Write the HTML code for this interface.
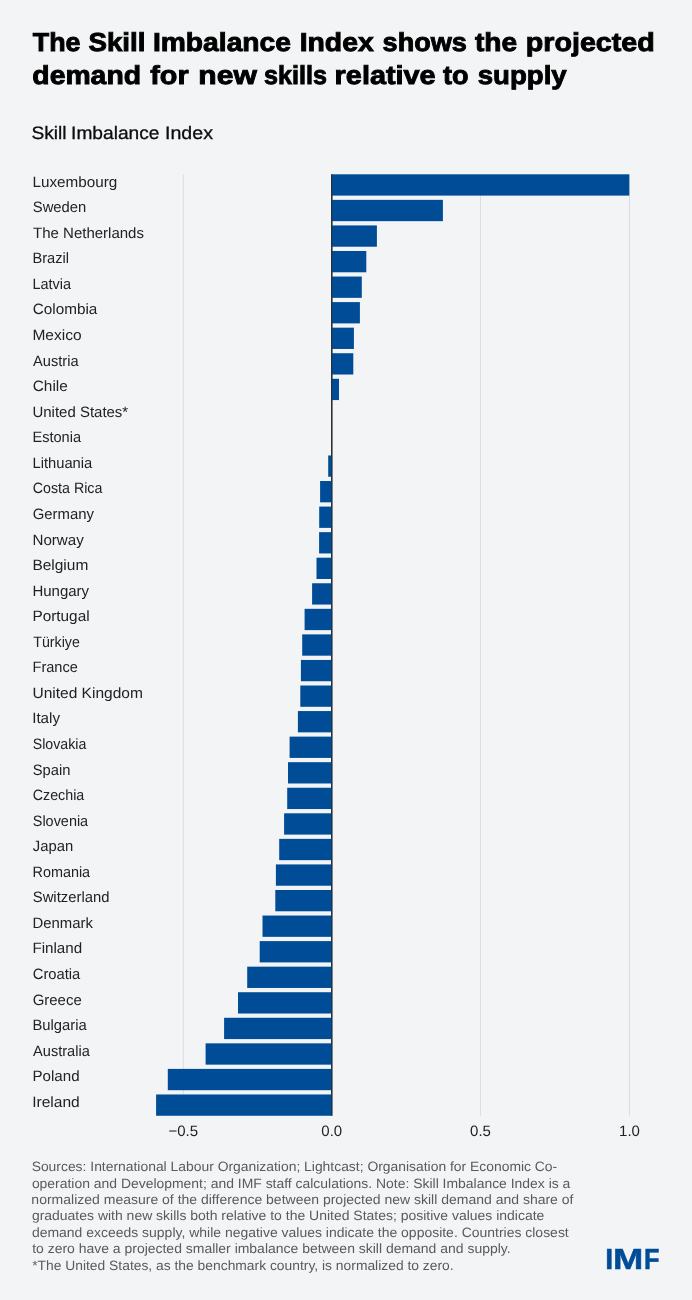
<!DOCTYPE html>
<html lang="en">
<head>
<meta charset="utf-8">
<title>The Skill Imbalance Index</title>
<style>
html,body{margin:0;padding:0;}
body{width:692px;height:1300px;background:#F2F4F6;position:relative;overflow:hidden;font-family:"Liberation Sans",sans-serif;color:#000;text-rendering:geometricPrecision;}
.t{position:absolute;white-space:nowrap;margin:0;padding:0;transform-origin:0 0;}
.title{font-weight:700;font-size:26px;line-height:32px;-webkit-text-stroke:0.9px #000000;color:#000000;}
.sub{font-size:18px;line-height:24px;-webkit-text-stroke:0.3px #0d0d0d;color:#0d0d0d;}
.lab{font-size:15px;line-height:20px;color:#222222;}
.foot{font-size:13.5px;line-height:16px;color:#5a5a5a;}
.imf{font-weight:700;font-size:29px;line-height:30px;-webkit-text-stroke:0.5px #004C97;color:#004C97;}
.tick{font-size:15px;line-height:20px;color:#222222;width:60px;text-align:center;top:1122px;}
svg{position:absolute;left:0;top:0;}
</style>
</head>
<body>
<svg width="692" height="1300" viewBox="0 0 692 1300">
<rect x="182.80" y="174.30" width="1" height="941.46" fill="#DBDDE0"/>
<rect x="480.00" y="174.30" width="1" height="941.46" fill="#DBDDE0"/>
<rect x="629.00" y="174.30" width="1" height="941.46" fill="#DBDDE0"/>
<rect x="331.15" y="174.30" width="1.3" height="941.46" fill="#1a1a1a"/>
<rect x="331.80" y="174.30" width="297.50" height="21.3" fill="#004C97"/>
<rect x="331.80" y="199.86" width="111.10" height="21.3" fill="#004C97"/>
<rect x="331.80" y="225.42" width="45.10" height="21.3" fill="#004C97"/>
<rect x="331.80" y="250.98" width="34.50" height="21.3" fill="#004C97"/>
<rect x="331.80" y="276.54" width="30.00" height="21.3" fill="#004C97"/>
<rect x="331.80" y="302.10" width="28.10" height="21.3" fill="#004C97"/>
<rect x="331.80" y="327.66" width="22.10" height="21.3" fill="#004C97"/>
<rect x="331.80" y="353.22" width="21.50" height="21.3" fill="#004C97"/>
<rect x="331.80" y="378.78" width="7.20" height="21.3" fill="#004C97"/>
<rect x="328.20" y="455.46" width="3.60" height="21.3" fill="#004C97"/>
<rect x="320.10" y="481.02" width="11.70" height="21.3" fill="#004C97"/>
<rect x="319.20" y="506.58" width="12.60" height="21.3" fill="#004C97"/>
<rect x="319.10" y="532.14" width="12.70" height="21.3" fill="#004C97"/>
<rect x="316.50" y="557.70" width="15.30" height="21.3" fill="#004C97"/>
<rect x="312.10" y="583.26" width="19.70" height="21.3" fill="#004C97"/>
<rect x="304.60" y="608.82" width="27.20" height="21.3" fill="#004C97"/>
<rect x="302.20" y="634.38" width="29.60" height="21.3" fill="#004C97"/>
<rect x="300.90" y="659.94" width="30.90" height="21.3" fill="#004C97"/>
<rect x="300.30" y="685.50" width="31.50" height="21.3" fill="#004C97"/>
<rect x="297.90" y="711.06" width="33.90" height="21.3" fill="#004C97"/>
<rect x="289.60" y="736.62" width="42.20" height="21.3" fill="#004C97"/>
<rect x="288.00" y="762.18" width="43.80" height="21.3" fill="#004C97"/>
<rect x="287.20" y="787.74" width="44.60" height="21.3" fill="#004C97"/>
<rect x="284.10" y="813.30" width="47.70" height="21.3" fill="#004C97"/>
<rect x="279.20" y="838.86" width="52.60" height="21.3" fill="#004C97"/>
<rect x="275.90" y="864.42" width="55.90" height="21.3" fill="#004C97"/>
<rect x="275.30" y="889.98" width="56.50" height="21.3" fill="#004C97"/>
<rect x="262.50" y="915.54" width="69.30" height="21.3" fill="#004C97"/>
<rect x="259.70" y="941.10" width="72.10" height="21.3" fill="#004C97"/>
<rect x="247.20" y="966.66" width="84.60" height="21.3" fill="#004C97"/>
<rect x="238.00" y="992.22" width="93.80" height="21.3" fill="#004C97"/>
<rect x="224.10" y="1017.78" width="107.70" height="21.3" fill="#004C97"/>
<rect x="205.60" y="1043.34" width="126.20" height="21.3" fill="#004C97"/>
<rect x="167.80" y="1068.90" width="164.00" height="21.3" fill="#004C97"/>
<rect x="156.10" y="1094.46" width="175.70" height="21.3" fill="#004C97"/>
<rect x="331.30" y="174.30" width="1.0" height="941.46" fill="#1a1a1a" opacity="0.45"/>
</svg>
<h1 style="margin:0;font-size:inherit;font-weight:inherit">
<span class="t title" style="left:32px;top:26px;transform:translateX(0.76px) scaleX(1.0326)">The</span>
<span class="t title" style="left:88px;top:26px;transform:translateX(0.43px) scaleX(1.0647)">Skill</span>
<span class="t title" style="left:152px;top:26px;transform:translateX(0.94px) scaleX(1.0853)">Imbalance</span>
<span class="t title" style="left:299px;top:26px;transform:translateX(0.64px) scaleX(1.0900)">Index</span>
<span class="t title" style="left:382px;top:26px;transform:translateX(0.58px) scaleX(1.0408)">shows</span>
<span class="t title" style="left:474px;top:26px;transform:translateX(0.97px) scaleX(1.0813)">the</span>
<span class="t title" style="left:525px;top:26px;transform:translateX(0.82px) scaleX(1.1013)">projected</span>
<span class="t title" style="left:32px;top:59px;transform:translateX(0.36px) scaleX(1.0898)">demand</span>
<span class="t title" style="left:150px;top:59px;transform:translateX(0.20px) scaleX(1.1079)">for</span>
<span class="t title" style="left:198px;top:59px;transform:translateX(0.36px) scaleX(1.1558)">new</span>
<span class="t title" style="left:264px;top:59px;transform:translateX(0.12px) scaleX(0.9672)">skills</span>
<span class="t title" style="left:334px;top:59px;transform:translateX(0.61px) scaleX(1.1095)">relative</span>
<span class="t title" style="left:443px;top:59px;transform:translateX(0.06px) scaleX(1.0433)">to</span>
<span class="t title" style="left:477px;top:59px;transform:translateX(0.67px) scaleX(1.0627)">supply</span>
</h1>
<h2 style="margin:0;font-size:inherit;font-weight:inherit">
<span class="t sub" style="left:31px;top:121px;transform:translateX(0.40px) scaleX(1.0656)">Skill</span>
<span class="t sub" style="left:71px;top:121px;transform:translateX(0.11px) scaleX(1.0630)">Imbalance</span>
<span class="t sub" style="left:164px;top:121px;transform:translateX(0.97px) scaleX(1.0894)">Index</span>
</h2>
<div>
<span class="t lab" style="left:32px;top:173px;transform:translateX(0.43px) scaleX(1.0178)">Luxembourg</span>
<span class="t lab" style="left:32px;top:198px;transform:translateX(0.76px) scaleX(0.9867)">Sweden</span>
<span class="t lab" style="left:33px;top:224px;transform:translateX(0.05px) scaleX(1.0000)">The Netherlands</span>
<span class="t lab" style="left:32px;top:249px;transform:translateX(0.48px) scaleX(0.9759)">Brazil</span>
<span class="t lab" style="left:32px;top:275px;transform:translateX(0.49px) scaleX(0.9652)">Latvia</span>
<span class="t lab" style="left:32px;top:300px;transform:translateX(0.74px) scaleX(1.0192)">Colombia</span>
<span class="t lab" style="left:32px;top:326px;transform:translateX(0.41px) scaleX(1.0339)">Mexico</span>
<span class="t lab" style="left:33px;top:352px;transform:translateX(0.10px) scaleX(0.9733)">Austria</span>
<span class="t lab" style="left:32px;top:377px;transform:translateX(0.73px) scaleX(1.0260)">Chile</span>
<span class="t lab" style="left:32px;top:403px;transform:translateX(0.45px) scaleX(0.9984)">United States*</span>
<span class="t lab" style="left:32px;top:428px;transform:translateX(0.49px) scaleX(0.9703)">Estonia</span>
<span class="t lab" style="left:32px;top:454px;transform:translateX(0.47px) scaleX(0.9824)">Lithuania</span>
<span class="t lab" style="left:32px;top:479px;transform:translateX(0.79px) scaleX(0.9490)">Costa Rica</span>
<span class="t lab" style="left:32px;top:505px;transform:translateX(0.76px) scaleX(0.9926)">Germany</span>
<span class="t lab" style="left:32px;top:531px;transform:translateX(0.44px) scaleX(1.0101)">Norway</span>
<span class="t lab" style="left:32px;top:556px;transform:translateX(0.41px) scaleX(1.0308)">Belgium</span>
<span class="t lab" style="left:32px;top:582px;transform:translateX(0.45px) scaleX(0.9991)">Hungary</span>
<span class="t lab" style="left:32px;top:607px;transform:translateX(0.42px) scaleX(1.0233)">Portugal</span>
<span class="t lab" style="left:33px;top:633px;transform:translateX(0.26px) scaleX(0.9472)">Türkiye</span>
<span class="t lab" style="left:32px;top:658px;transform:translateX(0.48px) scaleX(0.9721)">France</span>
<span class="t lab" style="left:32px;top:684px;transform:translateX(0.41px) scaleX(1.0354)">United Kingdom</span>
<span class="t lab" style="left:32px;top:709px;transform:translateX(0.18px) scaleX(1.0115)">Italy</span>
<span class="t lab" style="left:32px;top:735px;transform:translateX(0.79px) scaleX(0.9429)">Slovakia</span>
<span class="t lab" style="left:32px;top:761px;transform:translateX(0.76px) scaleX(0.9808)">Spain</span>
<span class="t lab" style="left:32px;top:786px;transform:translateX(0.79px) scaleX(0.9495)">Czechia</span>
<span class="t lab" style="left:32px;top:812px;transform:translateX(0.78px) scaleX(0.9621)">Slovenia</span>
<span class="t lab" style="left:32px;top:837px;transform:translateX(0.85px) scaleX(0.9873)">Japan</span>
<span class="t lab" style="left:32px;top:863px;transform:translateX(0.50px) scaleX(0.9600)">Romania</span>
<span class="t lab" style="left:32px;top:888px;transform:translateX(0.76px) scaleX(0.9888)">Switzerland</span>
<span class="t lab" style="left:32px;top:914px;transform:translateX(0.46px) scaleX(0.9933)">Denmark</span>
<span class="t lab" style="left:32px;top:939px;transform:translateX(0.44px) scaleX(1.0106)">Finland</span>
<span class="t lab" style="left:32px;top:965px;transform:translateX(0.76px) scaleX(0.9832)">Croatia</span>
<span class="t lab" style="left:32px;top:991px;transform:translateX(0.75px) scaleX(0.9948)">Greece</span>
<span class="t lab" style="left:32px;top:1016px;transform:translateX(0.47px) scaleX(0.9860)">Bulgaria</span>
<span class="t lab" style="left:33px;top:1042px;transform:translateX(0.10px) scaleX(0.9717)">Australia</span>
<span class="t lab" style="left:32px;top:1067px;transform:translateX(0.44px) scaleX(1.0090)">Poland</span>
<span class="t lab" style="left:32px;top:1093px;transform:translateX(0.14px) scaleX(1.0382)">Ireland</span>
</div>
<div>
<span class="t tick" style="left:153.30px">−0.5</span>
<span class="t tick" style="left:301.80px">0.0</span>
<span class="t tick" style="left:450.50px">0.5</span>
<span class="t tick" style="left:599.50px">1.0</span>
</div>
<div>
<span class="t foot" style="left:31px;top:1159px;transform:translateX(0.63px) scaleX(1.0285)">Sources: International Labour Organization; Lightcast; Organisation for Economic Co-</span>
<span class="t foot" style="left:31px;top:1176px;transform:translateX(0.88px) scaleX(1.0314)">operation and Development; and IMF staff calculations. Note: Skill Imbalance Index is a</span>
<span class="t foot" style="left:31px;top:1192px;transform:translateX(0.36px) scaleX(1.0369)">normalized measure of the difference between projected new skill demand and share of</span>
<span class="t foot" style="left:31px;top:1208px;transform:translateX(0.88px) scaleX(1.0347)">graduates with new skills both relative to the United States; positive values indicate</span>
<span class="t foot" style="left:31px;top:1225px;transform:translateX(0.88px) scaleX(1.0343)">demand exceeds supply, while negative values indicate the opposite. Countries closest</span>
<span class="t foot" style="left:32px;top:1241px;transform:translateX(0.14px) scaleX(1.0339)">to zero have a projected smaller imbalance between skill demand and supply.</span>
<span class="t foot" style="left:32px;top:1258px;transform:translateX(0.14px) scaleX(1.0256)">*The United States, as the benchmark country, is normalized to zero.</span>
</div>
<div><span class="t imf" style="left:605px;top:1245px;transform:translateX(0.19px) scaleX(0.9778)">I</span><span class="t imf" style="left:612px;top:1245px;transform:translateX(0.91px) scaleX(1.2530)">M</span><span class="t imf" style="left:643px;top:1245px;transform:translateX(0.97px) scaleX(0.8733)">F</span></div>
</body>
</html>
